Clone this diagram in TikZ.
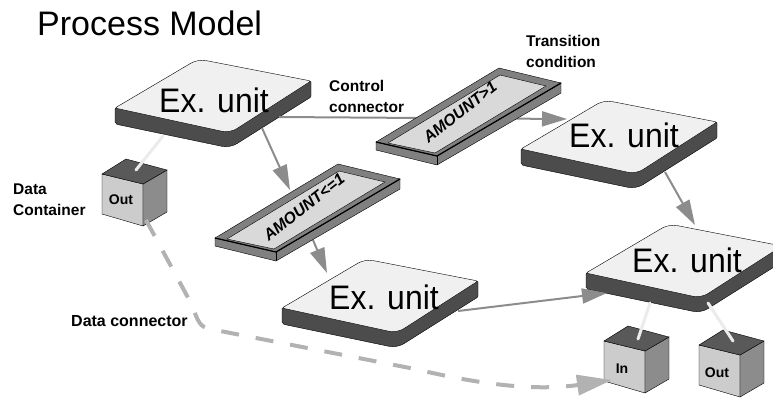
\documentclass[tikz,border=0pt]{standalone}
\usepackage{fontspec}
\setmainfont{Liberation Sans}
\newfontfamily\unitfont[FakeStretch=0.94]{Liberation Sans}
\usepackage{tikz}
\usetikzlibrary{arrows.meta}

\begin{document}
\begin{tikzpicture}[x=1pt, y=-1pt,
        unitlabel/.style = {anchor=base, inner sep=0pt, font=\unitfont\fontsize{34}{34}\selectfont},
        note/.style = {anchor=base west, inner sep=0pt, align=left, font=\fontsize{15.5}{21}\selectfont\bfseries},
        cubelabel/.style = {inner sep=0pt, font=\fontsize{14}{14}\selectfont\bfseries},
        condlabel/.style = {inner sep=0pt, rotate=38, font=\fontsize{16}{16}\selectfont\bfseries\itshape},
        control/.style = {draw=black!45, line width=2pt, -{Triangle[length=25pt, width=15pt, fill=black!45]}},
        datalink/.style = {draw=black!8, line width=3pt, line cap=round},
        dataflow/.style = {draw=black!30, line width=4pt, dash pattern=on 18pt off 17pt, -{Triangle[length=35pt, width=20pt, fill=black!30]}},
        exunit/.pic = {
            \draw[fill=black!70, rounded corners=2pt] (0,0) -- (0,16) [rounded corners=8pt] -- (115,40) [rounded corners=1pt] -- (196,-11) -- (196,-27) -- cycle;
            \draw[fill=black!6, rounded corners=2pt] (0,0) [rounded corners=8pt] -- (83,-49) [rounded corners=2pt] -- (196,-27) [rounded corners=8pt] -- (115,25) [rounded corners=2pt] -- cycle;
        },
        datacube/.pic = {
            \draw[fill=black!20] (0,0) -- (41,10) -- (41,52) -- (0,40) -- cycle;
            \draw[fill=black!45] (41,10) -- (65,-4) -- (65,38) -- (41,52) -- cycle;
            \draw[fill=black!65] (0,0) -- (24,-15) -- (65,-4) -- (41,10) -- cycle;
        },
        condplate/.pic = {
            \draw[fill=black!50] (0,0) -- (0,8) -- (61,23) -- (185,-49) -- (185,-59) -- (61,14) -- cycle;
            \draw (61,14) -- (61,23);
            \draw[fill=black!50] (0,0) -- (123,-74) -- (185,-59) -- (61,14) -- cycle;
            \draw[line width=1.2pt] (0,0) -- (61,14) -- (185,-59);
            \draw[fill=black!15] (12,1) -- (124,-67) -- (170,-56) -- (59,11) -- cycle;
        }]
                \clip (0,0) rectangle (773,397);

                \node[anchor=base west, inner sep=0pt, font=\fontsize{34}{34}\selectfont] at (37,35) (title) {Process Model};

                \pic at (115,108) {exunit};
                \pic at (521,149) {exunit};
                \pic at (282,308) {exunit};
                \pic at (586,273) {exunit};

                \coordinate (U1east) at (279,117);
                \coordinate (U1south) at (262,128);
                \coordinate (U1data) at (163,136);
                \coordinate (U2west) at (567,119);
                \coordinate (U2south) at (665,172);
                \coordinate (U3north) at (327,273);
                \coordinate (U3east) at (458,311);
                \coordinate (U4north) at (695,225);
                \coordinate (U4west) at (607,293);
                \coordinate (U4dataA) at (650,303);
                \coordinate (U4dataB) at (708,303);
                \coordinate (T2north) at (290,190);
                \coordinate (T2south) at (313,240);

                \draw[control] (U1east) -- (U2west);
                \draw[control] (U1south) -- (T2north);
                \draw[control] (T2south) -- (U3north);
                \draw[control] (U2south) -- (U4north);
                \draw[control] (U3east) -- (U4west);

                \pic at (376,142) {condplate};
                \pic at (215,238) {condplate};

                \node[condlabel] at (460,112) (T1) {AMOUNT>1};
                \node[condlabel] at (304,207) (T2) {AMOUNT<=1};

                \node[unitlabel] at (214,112) (U1) {Ex. unit};
                \node[unitlabel] at (624,147) (U2) {Ex. unit};
                \node[unitlabel] at (384,309) (U3) {Ex. unit};
                \node[unitlabel] at (687,272) (U4) {Ex. unit};

                \pic at (102,174) {datacube};
                \pic at (604,341) {datacube};
                \pic at (699,345) {datacube};

                \node[cubelabel] at (121,200) (D1) {Out};
                \node[cubelabel] at (622,369) (D2) {In};
                \node[cubelabel] at (717,373) (D3) {Out};

                \coordinate (D1top) at (136,170);
                \coordinate (D1bottom) at (146,220);
                \coordinate (D2top) at (638,339);
                \coordinate (D2west) at (612,380);
                \coordinate (D3top) at (733,341);
                \coordinate (bendA) at (192,305);
                \coordinate (bendB) at (210,329);
                \coordinate (bendC) at (415,369);

                \draw[datalink] (U1data) -- (D1top);
                \draw[datalink] (U4dataA) -- (D2top);
                \draw[datalink] (U4dataB) -- (D3top);
                \draw[dataflow] (D1bottom) -- (bendA) .. controls (198,322) and (200,327) .. (bendB) -- (bendC) .. controls (470,382) and (530,392) .. (D2west);

                \node[note] at (329,112) (n1) {Control\\connector};
                \node[note] at (526,67) (n2) {Transition\\condition};
                \node[note] at (13,215) (n3) {Data\\Container};
                \node[note, font=\fontsize{16}{21}\selectfont\bfseries] at (71,326) (n4) {Data connector};
\end{tikzpicture}
\end{document}
